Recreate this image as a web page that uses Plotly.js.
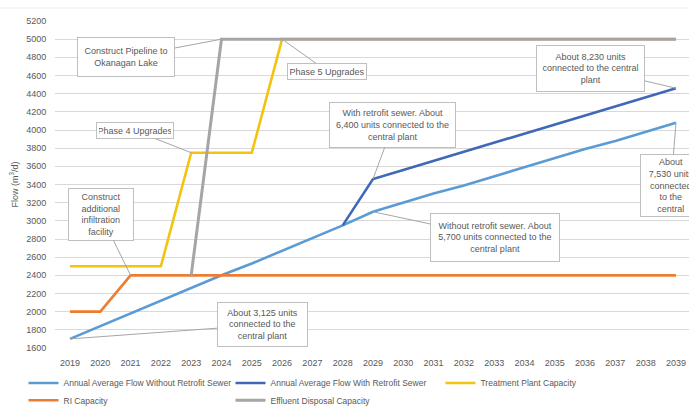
<!DOCTYPE html>
<html>
<head>
<meta charset="utf-8">
<script src="https://cdn.plot.ly/plotly-3.0.1.min.js"></script>
<style>
  html, body { margin: 0; padding: 0; background: #ffffff; }
  #chart { width: 689px; height: 406px; }
</style>
</head>
<body>
<div id="chart"></div>
<script>
// ---- data ----
const years = [2019, 2020, 2021, 2022, 2023, 2024, 2025, 2026, 2027, 2028, 2029,
               2030, 2031, 2032, 2033, 2034, 2035, 2036, 2037, 2038, 2039];

const flowWithoutRetrofit = [1700, 1840, 1980, 2120, 2260, 2400, 2530, 2670, 2810, 2950, 3100,
                             3200, 3300, 3390, 3490, 3590, 3690, 3790, 3880, 3980, 4080];

const flowWithRetrofit = [null, null, null, null, null, null, null, null, null, 2950, 3460,
                          3560, 3660, 3760, 3860, 3960, 4060, 4160, 4260, 4360, 4460];

const treatmentCapacity = [2500, 2500, 2500, 2500, 3750, 3750, 3750, 5000, 5000, 5000, 5000,
                           5000, 5000, 5000, 5000, 5000, 5000, 5000, 5000, 5000, 5000];

const riCapacity = [2000, 2000, 2400, 2400, 2400, 2400, 2400, 2400, 2400, 2400, 2400,
                    2400, 2400, 2400, 2400, 2400, 2400, 2400, 2400, 2400, 2400];

const effluentCapacity = [null, null, null, null, 2400, 5000, 5000, 5000, 5000, 5000, 5000,
                          5000, 5000, 5000, 5000, 5000, 5000, 5000, 5000, 5000, 5000];

const seriesNames = ["Annual Average Flow Without Retrofit Sewer",
                     "Annual Average Flow With Retrofit Sewer",
                     "Treatment Plant Capacity",
                     "RI Capacity",
                     "Effluent Disposal Capacity"];

const calloutTexts = {
  pipeline: "Construct Pipeline to<br>Okanagan Lake",
  phase5: "Phase 5 Upgrades",
  phase4: "Phase 4 Upgrades",
  withRetro: "With retrofit sewer. About<br>6,400 units connected to the<br>central plant",
  units8230: "About 8,230 units<br>connected to the central<br>plant",
  units7530: "About<br>7,530 units<br>connected<br>to the<br>central",
  withoutRetro: "Without retrofit sewer. About<br>5,700 units connected to the<br>central plant",
  infiltration: "Construct<br>additional<br>infiltration<br>facility",
  units3125: "About 3,125 units<br>connected to the<br>central plant"
};

// ---- styling ----
const FONT = "Liberation Sans, Arial, sans-serif";
const TXT = "#595959";
const colors = ["#5B9BD5", "#4068B8", "#F2C40F", "#ED7D31", "#A5A5A5"];
const widths = [2.6, 2.6, 2.6, 2.6, 3.0];
const legendIds = ["legend", "legend2", "legend3", "legend4", "legend5"];
const seriesData = [flowWithoutRetrofit, flowWithRetrofit, treatmentCapacity, riCapacity, effluentCapacity];

const traces = seriesData.map((vals, i) => ({
  type: "scatter",
  mode: "lines",
  x: years,
  y: vals,
  name: seriesNames[i],
  legend: legendIds[i],
  line: { color: colors[i], width: widths[i] },
  connectgaps: false,
  hoverinfo: "x+y+name"
}));

function callout(text, xi, series, ax, ay, w, h) {
  return {
    x: years[xi], y: series[xi], xref: "x", yref: "y",
    text: text, showarrow: true, arrowhead: 0, arrowwidth: 1, arrowcolor: "#A6A6A6",
    ax: ax, ay: ay, axref: "pixel", ayref: "pixel",
    bgcolor: "#ffffff", bordercolor: "#BFBFBF", borderwidth: 1, borderpad: 2,
    width: w, height: h, align: "center", valign: "middle",
    font: { family: FONT, size: 9, color: TXT }
  };
}

const annotations = [
  callout(calloutTexts.pipeline, 5, effluentCapacity, -95, 18, 92, 34),
  callout(calloutTexts.phase5, 7, treatmentCapacity, 45, 32, 74, 11),
  callout(calloutTexts.phase4, 4, treatmentCapacity, -56, -22, 72, 11),
  callout(calloutTexts.withRetro, 10, flowWithRetrofit, 20, -54, 121, 40),
  callout(calloutTexts.units8230, 20, flowWithRetrofit, -85, -20, 103, 41),
  callout(calloutTexts.units7530, 20, flowWithoutRetrofit, -5, 63, 56, 57),
  callout(calloutTexts.withoutRetro, 10, flowWithoutRetrofit, 122, 26, 124, 43),
  callout(calloutTexts.infiltration, 2, riCapacity, -30, -61, 60, 47),
  callout(calloutTexts.units3125, 0, flowWithoutRetrofit, 192, -14, 85, 39)
];

function legendAt(x, y) {
  return {
    orientation: "v",
    x: x, xanchor: "left",
    y: y, yanchor: "middle",
    font: { family: FONT, size: 8.5, color: TXT },
    itemwidth: 30,
    bgcolor: "rgba(0,0,0,0)",
    borderwidth: 0
  };
}

const layout = {
  width: 689,
  height: 406,
  margin: { l: 55, r: 0, t: 21, b: 58, autoexpand: false },
  paper_bgcolor: "#ffffff",
  plot_bgcolor: "#ffffff",
  font: { family: FONT, size: 9, color: TXT },
  showlegend: true,
  legend: legendAt(-0.0497, -0.107),
  legend2: legendAt(0.2768, -0.107),
  legend3: legendAt(0.608, -0.107),
  legend4: legendAt(-0.0497, -0.16),
  legend5: legendAt(0.2768, -0.16),
  shapes: [{
    type: "line", xref: "paper", yref: "paper",
    x0: -0.09, x1: 1.0, y0: 1.0398, y1: 1.0398,
    line: { color: "#EFEFEF", width: 1 }
  }],
  xaxis: {
    type: "linear",
    range: [2018.505, 2039.43],
    tickvals: years,
    ticktext: years.map(String),
    showgrid: false, zeroline: false, showline: false,
    ticks: "outside", ticklen: 6, tickcolor: "rgba(0,0,0,0)",
    tickfont: { family: FONT, size: 9, color: TXT },
    fixedrange: true
  },
  yaxis: {
    range: [1600, 5200],
    dtick: 200, tick0: 1600,
    showgrid: true, gridcolor: "#D9D9D9", gridwidth: 1,
    zeroline: false, showline: false,
    ticks: "outside", ticklen: 6, tickcolor: "rgba(0,0,0,0)",
    tickfont: { family: FONT, size: 9, color: TXT },
    title: { text: "Flow (m<sup>3</sup>/d)", font: { family: FONT, size: 9, color: TXT }, standoff: 6 },
    fixedrange: true
  },
  annotations: annotations
};

Plotly.newPlot("chart", traces, layout, { displayModeBar: false, staticPlot: true });
</script>
</body>
</html>
